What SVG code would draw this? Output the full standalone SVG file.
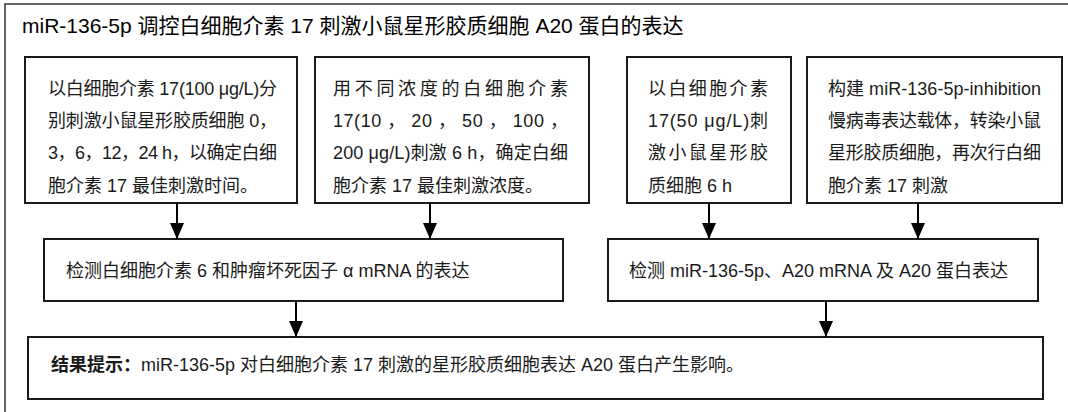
<svg xmlns="http://www.w3.org/2000/svg" width="1068" height="412" viewBox="0 0 1068 412">
<defs>
<style>
.frame{fill:#fff;stroke:#333;stroke-width:1.5}
.box{fill:#fff;stroke:#1a1a1a;stroke-width:2}
.t{font-family:"Liberation Sans","Noto Sans CJK SC",sans-serif;font-size:18px;fill:#1a1a1a}
.title{font-family:"Liberation Sans","Noto Sans CJK SC",sans-serif;font-size:21px;fill:#000}
.b{font-weight:bold}
.conn line{stroke:#000;stroke-width:2}
</style>
<marker id="ah" markerUnits="userSpaceOnUse" markerWidth="14" markerHeight="16" viewBox="0 0 14 16" refX="7" refY="16" orient="0">
<path d="M0,0 L14,0 L7,16 Z" fill="#000"/>
</marker>
</defs>
<rect x="0" y="0" width="1068" height="412" fill="#fff"/>
<rect class="frame" x="5" y="4" width="1080" height="430"/>
<text class="title" x="22" y="33">miR-136-5p 调控白细胞介素 17 刺激小鼠星形胶质细胞 A20 蛋白的表达</text>

<g id="n1">
<rect class="box" x="25" y="57" width="272" height="146"/>
<text class="t" x="48" y="95" textLength="229" lengthAdjust="spacing">以白细胞介素 17(100 μg/L)分</text>
<text class="t" x="48" y="127" textLength="229" lengthAdjust="spacing">别刺激小鼠星形胶质细胞 0，</text>
<text class="t" x="48" y="159" textLength="229" lengthAdjust="spacing">3，6，12，24 h，以确定白细</text>
<text class="t" x="48" y="192">胞介素 17 最佳刺激时间。</text>
</g>

<g id="n2">
<rect class="box" x="315" y="57" width="274" height="146"/>
<text class="t" x="333" y="95" textLength="235" lengthAdjust="spacing">用不同浓度的白细胞介素</text>
<text class="t" x="333" y="127" textLength="235" lengthAdjust="spacing">17(10 ， 20 ， 50 ， 100 ，</text>
<text class="t" x="333" y="159" textLength="235" lengthAdjust="spacing">200 μg/L)刺激 6 h，确定白细</text>
<text class="t" x="333" y="192">胞介素 17 最佳刺激浓度。</text>
</g>

<g id="n3">
<rect class="box" x="627" y="57" width="164" height="146"/>
<text class="t" x="648" y="95" textLength="120" lengthAdjust="spacing">以白细胞介素</text>
<text class="t" x="648" y="127" textLength="120" lengthAdjust="spacing">17(50  μg/L)刺</text>
<text class="t" x="648" y="159" textLength="120" lengthAdjust="spacing">激小鼠星形胶</text>
<text class="t" x="648" y="192">质细胞 6 h</text>
</g>

<g id="n4">
<rect class="box" x="807" y="57" width="255" height="146"/>
<text class="t" x="828" y="95" textLength="213" lengthAdjust="spacing">构建 miR-136-5p-inhibition</text>
<text class="t" x="828" y="127" textLength="213" lengthAdjust="spacing">慢病毒表达载体，转染小鼠</text>
<text class="t" x="828" y="159" textLength="213" lengthAdjust="spacing">星形胶质细胞，再次行白细</text>
<text class="t" x="828" y="192">胞介素 17 刺激</text>
</g>

<g id="n5">
<rect class="box" x="44" y="239" width="519" height="62"/>
<text class="t" x="66" y="277">检测白细胞介素 6 和肿瘤坏死因子 α mRNA 的表达</text>
</g>

<g id="n6">
<rect class="box" x="608" y="239" width="430" height="62"/>
<text class="t" x="629" y="277">检测 miR-136-5p、A20 mRNA 及 A20 蛋白表达</text>
</g>

<g id="n7">
<rect class="box" x="28" y="337" width="1015" height="62"/>
<text class="t" x="51" y="371"><tspan class="b">结果提示：</tspan>miR-136-5p 对白细胞介素 17 刺激的星形胶质细胞表达 A20 蛋白产生影响。</text>
</g>

<g id="connectors" class="conn">
<line x1="177" y1="203" x2="177" y2="239" marker-end="url(#ah)"/>
<line x1="430" y1="203" x2="430" y2="239" marker-end="url(#ah)"/>
<line x1="709" y1="203" x2="709" y2="239" marker-end="url(#ah)"/>
<line x1="918" y1="203" x2="918" y2="239" marker-end="url(#ah)"/>
<line x1="296" y1="301" x2="296" y2="337" marker-end="url(#ah)"/>
<line x1="826" y1="301" x2="826" y2="337" marker-end="url(#ah)"/>
</g>
</svg>
